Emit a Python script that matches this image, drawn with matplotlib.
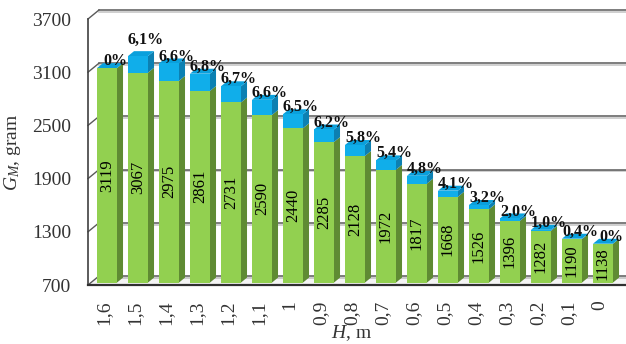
import matplotlib
matplotlib.use("Agg")
import matplotlib.pyplot as plt
from matplotlib.patches import Polygon
import matplotlib.patheffects as pe

# ---- data ----
heights_m = ["1,6", "1,5", "1,4", "1,3", "1,2", "1,1", "1", "0,9", "0,8",
             "0,7", "0,6", "0,5", "0,4", "0,3", "0,2", "0,1", "0"]
mass_g = [3119, 3067, 2975, 2861, 2731, 2590, 2440, 2285, 2128,
          1972, 1817, 1668, 1526, 1396, 1282, 1190, 1138]
increase_pct = [0, 6.1, 6.6, 6.8, 6.7, 6.6, 6.5, 6.2, 5.8,
                5.4, 4.8, 4.1, 3.2, 2.0, 1.0, 0.4, 0]
y_ticks = [700, 1300, 1900, 2500, 3100, 3700]

plt.rcParams["font.family"] = ["Liberation Serif", "DejaVu Serif"]
plt.rcParams["mathtext.fontset"] = "custom"
plt.rcParams["mathtext.rm"] = "Liberation Serif"
plt.rcParams["mathtext.it"] = "Liberation Serif:italic"

W, H, DPI = 626, 344, 100
fig = plt.figure(figsize=(W / DPI, H / DPI), dpi=DPI)

# front plane of the pseudo-3D box, in pixels
left_px, right_px, floor_px, top_px = 88, 626, 285, 19
ax = fig.add_axes([left_px / W, (H - floor_px) / H,
                   (right_px - left_px) / W, (floor_px - top_px) / H])

n = len(mass_g)
step_px = 31.0
x0 = (left_px - 104) / step_px
x1 = x0 + (right_px - left_px) / step_px
ymin, ymax = y_ticks[0], y_ticks[-1]
ax.set_xlim(x0, x1)
ax.set_ylim(ymin, ymax)

# depth vector of the box, in data units
px_x = (right_px - left_px) / (x1 - x0)
px_y = (floor_px - top_px) / (ymax - ymin)
DX = 11 / px_x
DY = 9 / px_y

grid_col = "#5a5a5a"
shadow = [pe.SimpleLineShadow(offset=(0, -1.3), shadow_color="#9a9a9a", alpha=0.6),
          pe.Normal()]

# floor
floor = Polygon([(x0, ymin), (x1 + 1, ymin), (x1 + 1 + DX, ymin + DY), (x0 + DX, ymin + DY)],
                closed=True, facecolor="#f4f4f4", edgecolor="none", zorder=0.5, clip_on=False)
ax.add_patch(floor)

# gridlines on the back wall and the left wall
for t in y_ticks:
    ax.plot([x0 + DX, x1 + 2], [t + DY, t + DY], color=grid_col, lw=1.1,
            zorder=1, clip_on=False, path_effects=shadow)
    ax.plot([x0, x0 + DX], [t, t + DY], color=grid_col, lw=1.0, zorder=1, clip_on=False)
ax.plot([x0, x0], [ymin, ymax], color="#404040", lw=1.2, zorder=1, clip_on=False)
ax.plot([x0, x1 + 1], [ymin, ymin], color="#303030", lw=1.6, zorder=6, clip_on=False)

# bars
green_f, green_s = "#92d050", "#5f8b33"
blue_f, blue_s, blue_t = "#10aeea", "#0c80b2", "#0aa0dc"
bw = 20 / step_px
f0, f1 = 0.27, 0.82
xs = [i + f0 * DX for i in range(n)]
extra = [v * p / 100.0 for v, p in zip(mass_g, increase_pct)]
base = ymin + f0 * DY

ax.bar(xs, [v - ymin for v in mass_g], bottom=base, width=bw,
       color=green_f, edgecolor="none", zorder=3)
ax.bar(xs, extra, bottom=[v + f0 * DY for v in mass_g], width=bw,
       color=blue_f, edgecolor="none", zorder=3)

pct_texts = []
for i, (v, e) in enumerate(zip(mass_g, extra)):
    xr = i + bw / 2
    xl = i - bw / 2
    d0x, d1x = f0 * DX, f1 * DX
    d0y, d1y = f0 * DY, f1 * DY
    ax.add_patch(Polygon([(xr + d0x, ymin + d0y), (xr + d1x, ymin + d1y),
                          (xr + d1x, v + d1y), (xr + d0x, v + d0y)],
                         closed=True, facecolor=green_s, edgecolor="none", zorder=2.9))
    if e > 0:
        ax.add_patch(Polygon([(xr + d0x, v + d0y), (xr + d1x, v + d1y),
                              (xr + d1x, v + e + d1y), (xr + d0x, v + e + d0y)],
                             closed=True, facecolor=blue_s, edgecolor="none", zorder=2.9))
    tt = v + e
    ax.add_patch(Polygon([(xl + d0x, tt + d0y), (xr + d0x, tt + d0y),
                          (xr + d1x, tt + d1y), (xl + d1x, tt + d1y)],
                         closed=True, facecolor=blue_t, edgecolor="none", zorder=2.9))

    # value inside the green bar
    ax.text(i + d0x, (ymin + v) / 2 + d0y, f"{v}", rotation=90, ha="center",
            va="center", fontsize=12, color="black", zorder=5)

    # percentage label above the bar
    p = increase_pct[i]
    lab = "0%" if p == 0 else f"{p:.1f}".replace(".", ",") + "%"
    t = ax.annotate(lab, xy=(i + d0x, tt + d0y), xytext=(8, 7), textcoords="offset pixels",
                    ha="center", va="center", fontsize=11.5, fontweight="bold",
                    color="#111111", zorder=6, annotation_clip=False)
    pct_texts.append(t)

# lift a percentage label that sits almost level with its right neighbour
renderer = fig.canvas.get_renderer()
boxes = [t.get_window_extent(renderer) for t in pct_texts]
for i in range(n - 1):
    a, b = boxes[i], boxes[i + 1]
    x_ov = a.x1 - b.x0
    dy = abs((a.y0 + a.y1) / 2 - (b.y0 + b.y1) / 2)
    if x_ov > 3 and dy < 8.5:
        ox, oy = pct_texts[i].xyann
        pct_texts[i].xyann = (ox, oy + 9)

# axes, ticks and labels
for s in ax.spines.values():
    s.set_visible(False)
ax.set_xticks(range(n))
ax.set_xticklabels(heights_m, rotation=90, fontsize=14, color="#333333")
ax.set_yticks(y_ticks)
ax.set_yticklabels([str(t) for t in y_ticks], fontsize=14, color="#333333")
ax.tick_params(axis="x", length=0, pad=11)
ax.tick_params(axis="y", length=0, pad=12)

ax.set_ylabel(r"$G_{M}$, gram", fontsize=14, color="#333333")
ax.yaxis.set_label_coords((23 - left_px) / (right_px - left_px), 0.5)
ax.set_xlabel(r"$H$, m", fontsize=14, color="#333333")
ax.xaxis.set_label_coords((351 - left_px) / (right_px - left_px),
                          (floor_px - 323) / (floor_px - top_px))

fig.savefig("out.png", dpi=DPI)
